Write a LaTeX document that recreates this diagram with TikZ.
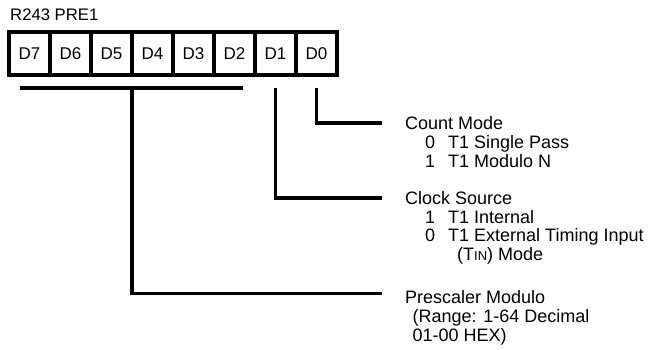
\documentclass[tikz,border=0pt]{standalone}
\usepackage{fontspec}
\setmainfont{Liberation Sans}
\begin{document}
\begin{tikzpicture}[x=1pt,y=-1pt,
  lbl/.style={font=\fontsize{18}{19}\selectfont, inner sep=0pt, anchor=base west},
  cell/.style={draw, line width=3.5pt, minimum width=41pt, minimum height=43pt, inner sep=0pt, font=\fontsize{17}{18}\selectfont},
  wire/.style={line width=3.5pt}]
\useasboundingbox (0,0) rectangle (669,349);
\node[lbl, font=\fontsize{16.7}{18}\selectfont] (title) at (10,20) {R243 PRE1};
\node[cell] (d7) at (29.5,53.5) {D7};
\node[cell] (d6) at (70.5,53.5) {D6};
\node[cell] (d5) at (111.5,53.5) {D5};
\node[cell] (d4) at (152.5,53.5) {D4};
\node[cell] (d3) at (193.5,53.5) {D3};
\node[cell] (d2) at (234.5,53.5) {D2};
\node[cell] (d1) at (275.5,53.5) {D1};
\node[cell] (d0) at (316.5,53.5) {D0};
% prescaler bar
\coordinate (b1) at (20,88);
\coordinate (b2) at (243,88);
\coordinate (bm) at (132,88);
\draw[wire] (b1) -- (b2);
\coordinate (pe) at (382,293.5);
\draw[wire] (bm) |- (pe);
% D1
\coordinate (c1) at (275.5,88);
\coordinate (ce) at (382,198);
\draw[wire] (c1) |- (ce);
% D0
\coordinate (c0) at (316.5,88);
\coordinate (me) at (382,123);
\draw[wire] (c0) |- (me);
% Count mode text
\node[lbl] (cm) at (405,129.5) {Count Mode};
\node[lbl] (cm0) at (425,148.5) {0};
\node[lbl] (cm0t) at (448,148.5) {T1 Single Pass};
\node[lbl] (cm1) at (425,167.5) {1};
\node[lbl] (cm1t) at (448,167.5) {T1 Modulo N};
% Clock source text
\node[lbl] (cs) at (405,204.5) {Clock Source};
\node[lbl] (cs1) at (425,223) {1};
\node[lbl] (cs1t) at (448,223) {T1 Internal};
\node[lbl] (cs0) at (425,241.5) {0};
\node[lbl] (cs0t) at (448,241.5) {T1 External Timing Input};
\node[lbl] (cs0u) at (457,260) {(T{\fontsize{13}{14}\selectfont IN}) Mode};
% Prescaler text
\node[lbl] (pm) at (405,303) {Prescaler Modulo};
\node[lbl] (pm1) at (412.5,322) {(Range: 1-64 Decimal};
\node[lbl] (pm2) at (412.5,341) {01-00 HEX)};
\end{tikzpicture}
\end{document}
